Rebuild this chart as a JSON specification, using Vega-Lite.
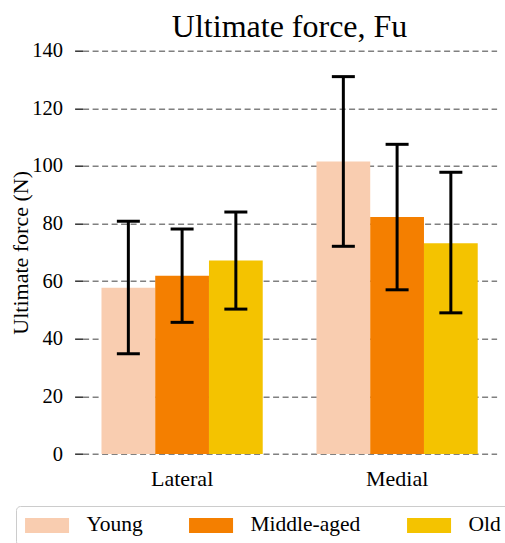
{
  "$schema": "https://vega.github.io/schema/vega-lite/v6.json",
  "autosize": {"type": "none"},
  "padding": {"left": 82.6, "top": 50.7, "right": 8.4, "bottom": 89},
  "width": 414,
  "height": 403.3,
  "background": "white",
  "config": {
    "view": {"stroke": null},
    "font": "Liberation Serif"
  },
  "title": {
    "text": "Ultimate force, Fu",
    "font": "Liberation Serif",
    "fontSize": 32,
    "fontWeight": "normal",
    "color": "black",
    "anchor": "middle",
    "offset": 0,
    "dy": 3
  },
  "data": {
    "values": [
      {"side": "Lateral", "age": "Young", "mean": 57.7, "lower": 34.8, "upper": 80.8},
      {"side": "Lateral", "age": "Middle-aged", "mean": 61.9, "lower": 45.7, "upper": 78.1},
      {"side": "Lateral", "age": "Old", "mean": 67.2, "lower": 50.3, "upper": 84.0},
      {"side": "Medial", "age": "Young", "mean": 101.5, "lower": 72.1, "upper": 131.0},
      {"side": "Medial", "age": "Middle-aged", "mean": 82.3, "lower": 57.0, "upper": 107.5},
      {"side": "Medial", "age": "Old", "mean": 73.2, "lower": 49.0, "upper": 97.8}
    ]
  },
  "encoding": {
    "x": {
      "field": "side",
      "type": "nominal",
      "scale": {"paddingInner": 0.25, "paddingOuter": 0.0878},
      "axis": {
        "title": null,
        "domain": false,
        "ticks": false,
        "grid": false,
        "labelAngle": 0,
        "labelPadding": 14,
        "labelFont": "Liberation Serif",
        "labelFontSize": 22,
        "labelColor": "black"
      }
    },
    "xOffset": {
      "field": "age",
      "type": "nominal",
      "sort": ["Young", "Middle-aged", "Old"],
      "scale": {"paddingInner": 0, "paddingOuter": 0}
    }
  },
  "layer": [
    {
      "mark": {"type": "bar"},
      "encoding": {
        "y": {
          "field": "mean",
          "type": "quantitative",
          "scale": {"domain": [0, 140], "nice": false},
          "axis": {
            "title": "Ultimate force (N)",
            "values": [0, 20, 40, 60, 80, 100, 120, 140],
            "domain": false,
            "grid": true,
            "gridColor": "#808080",
            "gridDash": [6, 3.5],
            "gridWidth": 1.5,
            "ticks": true,
            "tickSize": 8,
            "tickColor": "#333333",
            "tickWidth": 1.5,
            "labelPadding": 12,
            "labelFont": "Liberation Serif",
            "labelFontSize": 20.5,
            "labelColor": "black",
            "titleFont": "Liberation Serif",
            "titleFontSize": 22,
            "titleFontWeight": "normal",
            "titleColor": "black",
            "titlePadding": -1
          }
        },
        "color": {
          "field": "age",
          "type": "nominal",
          "scale": {
            "domain": ["Young", "Middle-aged", "Old"],
            "range": ["#f9cdb0", "#f47f00", "#f4c300"]
          },
          "legend": {
            "title": null,
            "orient": "none",
            "direction": "horizontal",
            "legendX": -66.6,
            "legendY": 455.3,
            "symbolType": "M-1,-0.75H3.4V0.75H-1Z",
            "symbolSize": 400,
            "symbolStrokeWidth": 0,
            "symbolOpacity": 1,
            "labelFont": "Liberation Serif",
            "labelFontSize": 21.5,
            "labelColor": "black",
            "labelOffset": 40.7,
            "columnPadding": 45,
            "padding": 8.3,
            "strokeColor": "#cccccc",
            "cornerRadius": 4
          }
        }
      }
    },
    {
      "mark": {"type": "rule", "color": "black", "strokeWidth": 3},
      "encoding": {
        "y": {"field": "lower", "type": "quantitative"},
        "y2": {"field": "upper"}
      }
    },
    {
      "mark": {"type": "tick", "color": "black", "size": 23, "thickness": 3, "opacity": 1},
      "encoding": {
        "y": {"field": "lower", "type": "quantitative"}
      }
    },
    {
      "mark": {"type": "tick", "color": "black", "size": 23, "thickness": 3, "opacity": 1},
      "encoding": {
        "y": {"field": "upper", "type": "quantitative"}
      }
    }
  ]
}
